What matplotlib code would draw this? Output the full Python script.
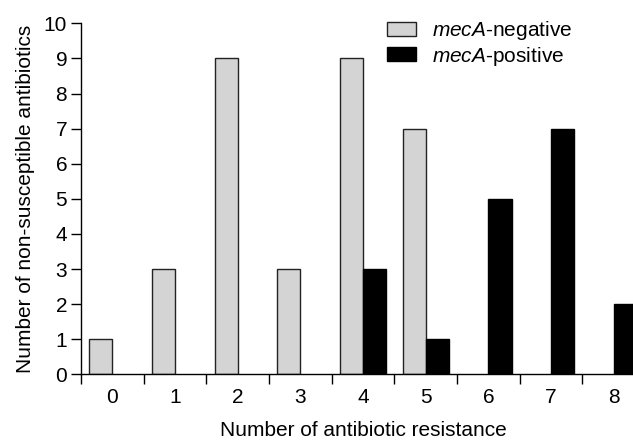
import numpy as np
import matplotlib
matplotlib.use("Agg")
from matplotlib import pyplot as plt

# data
categories = [0, 1, 2, 3, 4, 5, 6, 7, 8]
meca_negative = [1, 3, 9, 3, 9, 7, 0, 0, 0]
meca_positive = [0, 0, 0, 0, 3, 1, 5, 7, 2]

plt.rcParams['font.family'] = ['Liberation Sans', 'DejaVu Sans']
plt.rcParams['mathtext.fontset'] = 'custom'
plt.rcParams['mathtext.rm'] = 'Liberation Sans'
plt.rcParams['mathtext.it'] = 'Liberation Sans:italic'

fig = plt.figure(figsize=(6.33, 4.41), dpi=100)
# axes runs past the right edge on purpose, like the source figure
ax = fig.add_axes([0.128, 0.151, 0.891, 0.796])

x = np.array(categories)
w = 0.37
# no outline on empty bars
neg_lw = [1.0 if v else 0 for v in meca_negative]
pos_lw = [1.0 if v else 0 for v in meca_positive]
ax.bar(x - w / 2, meca_negative, w, color='#d4d4d4', edgecolor='#222222',
       linewidth=neg_lw, label=r'$\it{mecA}$-negative')
ax.bar(x + w / 2, meca_positive, w, color='black', edgecolor='black',
       linewidth=pos_lw, label=r'$\it{mecA}$-positive')

ax.set_xlim(-0.5, 8.5)
ax.set_ylim(0, 10)
ax.set_yticks(range(0, 11))

# ticks on the category boundaries, labels in the middle
ax.set_xticks(np.arange(-0.5, 9.0, 1.0))
ax.set_xticklabels([])
ax.set_xticks(x, minor=True)
ax.set_xticklabels([str(c) for c in categories], minor=True)
ax.tick_params(axis='x', which='major', direction='out', length=7, width=1.0)
ax.tick_params(axis='x', which='minor', length=0, pad=10, labelsize=15)
ax.tick_params(axis='y', direction='out', length=7, width=1.0, labelsize=15, pad=3)

ax.spines['top'].set_visible(False)
ax.spines['right'].set_visible(False)
ax.spines['left'].set_linewidth(1.0)
ax.spines['bottom'].set_linewidth(1.0)

ax.set_xlabel('Number of antibiotic resistance', fontsize=15, labelpad=10)
ax.set_ylabel('Number of non-susceptible antibiotics', fontsize=15, labelpad=6)

leg = ax.legend(loc='upper left', bbox_to_anchor=(0.528, 1.035), frameon=False,
                fontsize=15, handlelength=1.4, handleheight=0.65, handletextpad=0.75,
                labelspacing=0.1, borderaxespad=0)
for h in leg.legend_handles:
    h.set_linewidth(1.0)

fig.savefig('out.png', dpi=100)
